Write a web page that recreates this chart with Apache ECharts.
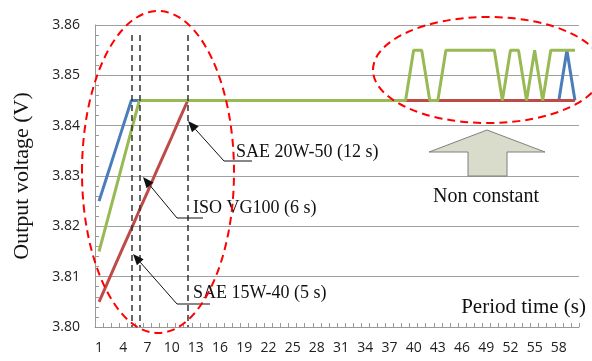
<!DOCTYPE html>
<html>
<head>
<meta charset="utf-8">
<script src="https://cdn.jsdelivr.net/npm/echarts@6/dist/echarts.min.js"></script>
<style>
html, body { margin: 0; padding: 0; background: #fff; }
#chart { width: 592px; height: 361px; }
</style>
</head>
<body>
<div id="chart"></div>
<script>
// period time (s)
var periods = ['1','2','3','4','5','6','7','8','9','10','11','12','13','14','15','16','17','18','19','20',
    '21','22','23','24','25','26','27','28','29','30','31','32','33','34','35','36','37','38','39','40',
    '41','42','43','44','45','46','47','48','49','50','51','52','53','54','55','56','57','58','59','60'];

// SAE 15W-40 (blue)
var sae15w40 = [3.825,3.830,3.835,3.840,3.845,3.845,3.845,3.845,3.845,3.845,3.845,3.845,3.845,3.845,3.845,3.845,3.845,3.845,3.845,3.845,
    3.845,3.845,3.845,3.845,3.845,3.845,3.845,3.845,3.845,3.845,3.845,3.845,3.845,3.845,3.845,3.845,3.845,3.845,3.845,3.845,
    3.845,3.845,3.845,3.845,3.845,3.845,3.845,3.845,3.845,3.845,3.845,3.845,3.845,3.845,3.845,3.845,3.845,3.845,3.855,3.845];

// SAE 20W-50 (red)
var sae20w50 = [3.8050,3.8086,3.8123,3.8159,3.8195,3.8232,3.8268,3.8305,3.8341,3.8377,3.8414,3.845,3.845,3.845,3.845,3.845,3.845,3.845,3.845,3.845,
    3.845,3.845,3.845,3.845,3.845,3.845,3.845,3.845,3.845,3.845,3.845,3.845,3.845,3.845,3.845,3.845,3.845,3.845,3.845,3.845,
    3.845,3.845,3.845,3.845,3.845,3.845,3.845,3.845,3.845,3.845,3.845,3.845,3.845,3.845,3.845,3.845,3.845,3.845,3.845,3.845];

// ISO VG100 (green)
var isoVg100 = [3.815,3.821,3.827,3.833,3.839,3.845,3.845,3.845,3.845,3.845,3.845,3.845,3.845,3.845,3.845,3.845,3.845,3.845,3.845,3.845,
    3.845,3.845,3.845,3.845,3.845,3.845,3.845,3.845,3.845,3.845,3.845,3.845,3.845,3.845,3.845,3.845,3.845,3.845,3.845,3.855,
    3.855,3.845,3.845,3.855,3.855,3.855,3.855,3.855,3.855,3.855,3.845,3.855,3.855,3.845,3.855,3.845,3.855,3.855,3.855,3.855];

// time to reach steady value (index of period)
var steadyAt = [4, 5, 11];

var serif = "'Liberation Serif', 'DejaVu Serif', serif";
var sans = "'Open Sans', 'Liberation Sans', sans-serif";

// little arrow with filled head: end -> elbow -> tip
function arrow(tip, elbow, end) {
    var dx = tip[0] - elbow[0], dy = tip[1] - elbow[1];
    var len = Math.sqrt(dx * dx + dy * dy);
    dx /= len; dy /= len;
    var hl = 11, hw = 4.5;
    var base = [tip[0] - dx * hl, tip[1] - dy * hl];
    return [
        {
            type: 'polyline', z: 20, silent: true,
            shape: { points: [end, elbow, base] },
            style: { stroke: '#111', lineWidth: 1, fill: null }
        },
        {
            type: 'polygon', z: 20, silent: true,
            shape: { points: [tip, [base[0] - dy * hw, base[1] + dx * hw], [base[0] + dy * hw, base[1] - dx * hw]] },
            style: { fill: '#111' }
        }
    ];
}

function label(text, x, y, size, align) {
    return {
        type: 'text', z: 20, silent: true, x: x, y: y,
        style: {
            text: text, fill: '#111', font: size + 'px ' + serif,
            align: align || 'left', verticalAlign: 'middle'
        }
    };
}

var marks = steadyAt.map(function (i) {
    return [{ coord: [periods[i], 3.858] }, { coord: [periods[i], 3.80] }];
});

var graphics = []
    .concat(arrow([188, 121], [224, 161], [252, 161]))
    .concat(arrow([143, 177], [177, 218], [203, 218]))
    .concat(arrow([133, 254], [177, 304], [210, 304]))
    .concat([
        label('SAE 20W-50 (12 s)', 236, 152, 18),
        label('ISO VG100 (6 s)', 193, 208, 18),
        label('SAE 15W-40 (5 s)', 193, 293, 18),
        label('Non constant', 486, 197, 20, 'center'),
        label('Period time (s)', 586, 307, 21, 'right'),
        {
            type: 'polygon', z: 15, silent: true,
            shape: { points: [[487, 130], [545, 152], [507, 152], [507, 176], [468, 176], [468, 152], [429, 152]] },
            style: { fill: '#d9dccb', stroke: '#7f7f7f', lineWidth: 1 }
        },
        {
            type: 'ellipse', z: 25, silent: true,
            shape: { cx: 158, cy: 172, rx: 76, ry: 161 },
            style: { fill: null, stroke: '#ff0000', lineWidth: 2, lineDash: [8, 5] }
        },
        {
            type: 'ellipse', z: 25, silent: true,
            shape: { cx: 488, cy: 70, rx: 115, ry: 53 },
            style: { fill: null, stroke: '#ff0000', lineWidth: 2, lineDash: [8, 5] }
        }
    ]);

var myChart = echarts.init(document.getElementById('chart'));
var option = {
    animation: false,
    grid: { left: 95, right: 13, top: 25, bottom: 34 },
    xAxis: {
        type: 'category',
        data: periods,
        boundaryGap: true,
        axisLine: { lineStyle: { color: '#999', width: 1 } },
        axisTick: { show: true, inside: true, interval: 0, length: 4, lineStyle: { color: '#999' } },
        axisLabel: { interval: 2, margin: 14, color: '#222', fontSize: 14, fontFamily: sans },
        splitLine: { show: false }
    },
    yAxis: {
        type: 'value',
        min: 3.80,
        max: 3.86,
        interval: 0.01,
        name: 'Output voltage (V)',
        nameLocation: 'middle',
        nameGap: 62,
        nameTextStyle: { fontFamily: serif, fontSize: 22, color: '#111' },
        axisLine: { show: true, lineStyle: { color: '#999', width: 1 } },
        axisTick: { show: true, inside: true, length: 4, lineStyle: { color: '#999' } },
        minorTick: { show: true, splitNumber: 5, length: 4, lineStyle: { color: '#999' } },
        axisLabel: {
            margin: 15, color: '#222', fontSize: 14, fontFamily: sans,
            formatter: function (v) { return v.toFixed(2); }
        },
        splitLine: { show: true, lineStyle: { color: '#a0a0a0', width: 1 } }
    },
    series: [
        {
            name: 'SAE 15W-40', type: 'line', data: sae15w40, symbol: 'none', z: 2,
            lineStyle: { color: '#4a7ebb', width: 3 }
        },
        {
            name: 'SAE 20W-50', type: 'line', data: sae20w50, symbol: 'none', z: 3,
            lineStyle: { color: '#be4b48', width: 3 },
            markLine: {
                silent: true, symbol: 'none', animation: false,
                label: { show: false },
                lineStyle: { color: '#333', type: [6, 4], width: 1.5 },
                data: marks
            }
        },
        {
            name: 'ISO VG100', type: 'line', data: isoVg100, symbol: 'none', z: 4,
            lineStyle: { color: '#98b954', width: 3 }
        }
    ],
    graphic: graphics
};
myChart.setOption(option);
</script>
</body>
</html>
